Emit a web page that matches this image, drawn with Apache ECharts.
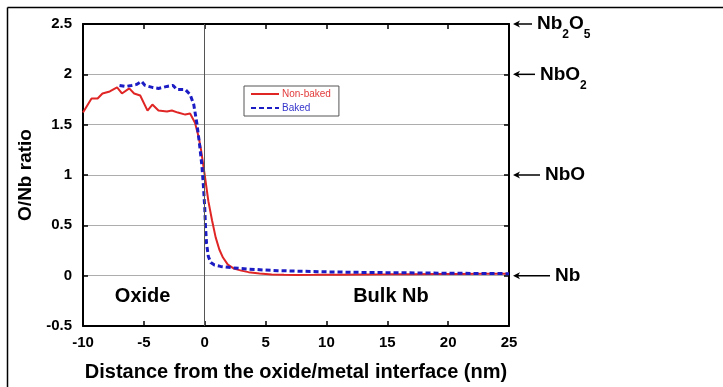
<!DOCTYPE html>
<html>
<head>
<meta charset="utf-8">
<script src="https://cdn.jsdelivr.net/npm/echarts@6/dist/echarts.min.js"></script>
<style>
  html, body { margin: 0; padding: 0; background: #fff; }
  #chart { width: 723px; height: 387px; }
</style>
</head>
<body>
<div id="chart"></div>
<script>
// [distance (nm), O/Nb ratio]
const nonBaked = [
  [-10, 1.62], [-9.6, 1.70], [-9.3, 1.76], [-8.8, 1.76], [-8.4, 1.81], [-7.8, 1.83],
  [-7.2, 1.87], [-6.8, 1.81], [-6.2, 1.86], [-5.8, 1.81], [-5.3, 1.79], [-4.7, 1.64],
  [-4.3, 1.70], [-3.8, 1.64], [-3.1, 1.63], [-2.7, 1.64], [-2.2, 1.62], [-1.6, 1.60],
  [-1.2, 1.61], [-0.8, 1.52], [-0.5, 1.38], [-0.3, 1.25], [0, 1.0], [0.3, 0.74],
  [0.6, 0.55], [0.9, 0.38], [1.2, 0.26], [1.5, 0.18], [1.9, 0.11], [2.4, 0.07],
  [3.0, 0.05], [3.6, 0.035], [4.5, 0.022], [5.5, 0.012], [6.5, 0.008], [7.5, 0.007],
  [9, 0.008], [11, 0.01], [13, 0.012], [15, 0.013], [17, 0.015], [19, 0.016],
  [21, 0.017], [23, 0.018], [25, 0.018]
];
const baked = [
  [-7.0, 1.89], [-6.5, 1.88], [-6.0, 1.89], [-5.6, 1.90], [-5.2, 1.93], [-4.9, 1.89],
  [-4.3, 1.87], [-3.8, 1.86], [-3.1, 1.88], [-2.6, 1.89], [-2.3, 1.85], [-1.6, 1.85],
  [-1.2, 1.80], [-0.9, 1.70], [-0.64, 1.51], [-0.43, 1.31], [-0.23, 1.09], [-0.1, 0.88],
  [0, 0.68], [0.06, 0.5], [0.15, 0.32], [0.3, 0.19], [0.5, 0.13], [0.8, 0.105],
  [1.3, 0.092], [2.3, 0.078], [3.5, 0.066], [4.8, 0.057], [6, 0.05], [7.6, 0.045],
  [10, 0.038], [12.5, 0.033], [15, 0.03], [17.5, 0.027], [20, 0.024], [22.5, 0.022],
  [25, 0.02]
];
const oxideLevels = [
  { name: 'Nb2O5', value: 2.5 },
  { name: 'NbO2', value: 2 },
  { name: 'NbO', value: 1 },
  { name: 'Nb', value: 0 }
];
const regionLabels = [
  { name: 'Oxide', value: [-5.1, -0.21] },
  { name: 'Bulk Nb', value: [15.3, -0.21] }
];

const FONT = '"Liberation Sans", Arial, sans-serif';
const arrowLen = { Nb2O5: 19, NbO2: 22, NbO: 27, Nb: 37 };
const richText = {
  Nb2O5: '{m|Nb}{s|2}{m|O}{s|5}',
  NbO2: '{m|NbO}{s|2}',
  NbO: '{m|NbO}',
  Nb: '{m|Nb}'
};

const chart = echarts.init(document.getElementById('chart'));

const tickStyle = { show: true, inside: true, length: 5, lineStyle: { color: '#000', width: 1.5 } };
const lineStyleAxis = { show: true, onZero: false, lineStyle: { color: '#000', width: 2 } };
const labelStyle = { color: '#000', fontFamily: FONT, fontWeight: 'bold', fontSize: 15 };

chart.setOption({
  animation: false,
  backgroundColor: '#fff',
  grid: { left: 83, top: 24, right: 214, bottom: 53 },
  graphic: [
    { type: 'line', shape: { x1: 7.5, y1: 7.5, x2: 723, y2: 7.5 }, style: { stroke: '#000', lineWidth: 1.5 } },
    { type: 'line', shape: { x1: 7.5, y1: 7.5, x2: 7.5, y2: 387 }, style: { stroke: '#000', lineWidth: 1.5 } }
  ],
  legend: {
    left: 244,
    top: 86,
    orient: 'vertical',
    borderColor: '#555',
    borderWidth: 1,
    padding: [3, 8, 3, 6],
    itemWidth: 28,
    itemHeight: 8,
    itemGap: 4,
    itemStyle: { opacity: 0 },
    textStyle: { fontFamily: FONT, fontSize: 10, padding: [0, 0, 0, -2] },
    data: [
      { name: 'Non-baked', textStyle: { color: '#e23b3b' } },
      { name: 'Baked', textStyle: { color: '#3535cc' } }
    ]
  },
  xAxis: [
    {
      type: 'value', min: -10, max: 25, interval: 5, position: 'bottom',
      name: 'Distance from the oxide/metal interface (nm)',
      nameLocation: 'middle', nameGap: 36,
      nameTextStyle: { color: '#000', fontFamily: FONT, fontWeight: 'bold', fontSize: 20 },
      axisLine: lineStyleAxis, axisTick: tickStyle,
      axisLabel: Object.assign({ margin: 9 }, labelStyle),
      splitLine: { show: false }
    },
    {
      type: 'value', min: -10, max: 25, interval: 5, position: 'top',
      axisLine: lineStyleAxis, axisTick: tickStyle,
      axisLabel: { show: false }, splitLine: { show: false }
    }
  ],
  yAxis: [
    {
      type: 'value', min: -0.5, max: 2.5, interval: 0.5, position: 'left',
      name: 'O/Nb ratio', nameLocation: 'middle', nameGap: 46,
      nameTextStyle: { color: '#000', fontFamily: FONT, fontWeight: 'bold', fontSize: 19 },
      axisLine: lineStyleAxis, axisTick: tickStyle,
      axisLabel: Object.assign({ margin: 11 }, labelStyle),
      splitLine: { show: true, lineStyle: { color: '#adadad', width: 1 } }
    },
    {
      type: 'value', min: -0.5, max: 2.5, interval: 0.5, position: 'right',
      axisLine: lineStyleAxis, axisTick: tickStyle,
      axisLabel: { show: false }, splitLine: { show: false }
    }
  ],
  series: [
    {
      name: 'Non-baked',
      type: 'line',
      data: nonBaked,
      symbol: 'none',
      z: 3,
      lineStyle: { color: '#e02525', width: 2 },
      itemStyle: { color: '#e02525' },
      markLine: {
        silent: true,
        symbol: 'none',
        label: { show: false },
        lineStyle: { color: '#555', width: 1, type: 'solid' },
        data: [{ xAxis: 0 }]
      }
    },
    {
      name: 'Baked',
      type: 'line',
      data: baked,
      symbol: 'none',
      z: 4,
      lineStyle: { color: '#1c1cc4', width: 3, type: [5, 3] },
      itemStyle: { color: '#1c1cc4' }
    },
    {
      name: 'regions',
      type: 'custom',
      data: regionLabels,
      renderItem: function (params, api) {
        const p = api.coord([api.value(0), api.value(1)]);
        return {
          type: 'text',
          x: p[0], y: p[1],
          style: {
            text: regionLabels[params.dataIndex].name,
            fill: '#000', font: 'bold 20px ' + FONT,
            align: 'center', verticalAlign: 'middle'
          }
        };
      }
    },
    {
      name: 'levels',
      type: 'custom',
      data: oxideLevels.map(function (d) { return [25, d.value]; }),
      clip: false,
      renderItem: function (params, api) {
        const d = oxideLevels[params.dataIndex];
        const p = api.coord([api.value(0), api.value(1)]);
        const x0 = p[0] + 4, y = p[1], len = arrowLen[d.name];
        return {
          type: 'group',
          children: [
            { type: 'line', shape: { x1: x0 + 3, y1: y, x2: x0 + len, y2: y }, style: { stroke: '#000', lineWidth: 1.5 } },
            { type: 'polygon', shape: { points: [[x0, y], [x0 + 7, y - 3.5], [x0 + 5, y], [x0 + 7, y + 3.5]] }, style: { fill: '#000' } },
            {
              type: 'text', x: x0 + len + 5, y: y,
              style: {
                text: richText[d.name],
                align: 'left', verticalAlign: 'middle',
                rich: {
                  m: { fontFamily: FONT, fontWeight: 'bold', fontSize: 19, fill: '#000' },
                  s: { fontFamily: FONT, fontWeight: 'bold', fontSize: 12, fill: '#000', padding: [22, 0, 0, 0] }
                }
              }
            }
          ]
        };
      }
    }
  ]
});
</script>
</body>
</html>
